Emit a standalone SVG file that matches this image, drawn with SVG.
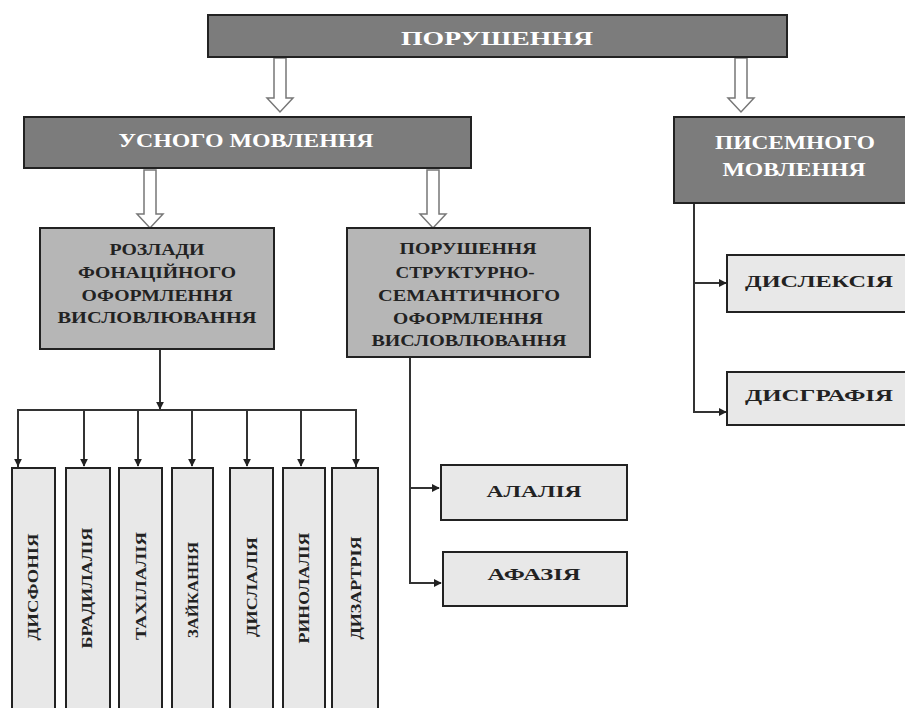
<svg xmlns="http://www.w3.org/2000/svg" width="905" height="708" viewBox="0 0 905 708">
<defs>
<style>
.dark{fill:#7c7c7c;stroke:#222;stroke-width:2}
.mid{fill:#b6b6b6;stroke:#222;stroke-width:2}
.light{fill:#e8e8e8;stroke:#222;stroke-width:2}
text{font-family:"Liberation Serif","Times New Roman",serif;font-weight:bold;text-anchor:middle;dominant-baseline:central}
.w{fill:#fff;font-size:19px}
.k{fill:#222;font-size:16px}
.v{fill:#222;font-size:15px}
.ln{fill:none;stroke:#333;stroke-width:2}
.hollow{fill:#fff;stroke:#777;stroke-width:1.5}
</style>
<marker id="ah" viewBox="0 0 10 10" refX="9" refY="5" markerWidth="4" markerHeight="4" orient="auto">
<path d="M0,0 L10,5 L0,10 z" fill="#222"/>
</marker>
</defs>
<rect width="905" height="708" fill="#fff"/>

<g id="connectors">
<path class="hollow" d="M274,58 h12 v40 h7 l-13,14 l-13,-14 h7 z"/>
<path class="hollow" d="M735,58 h12 v40 h7 l-13,14 l-13,-14 h7 z"/>
<path class="hollow" d="M144,170 h12 v44 h7 l-13,14 l-13,-14 h7 z"/>
<path class="hollow" d="M427,170 h12 v44 h7 l-13,14 l-13,-14 h7 z"/>
<path class="ln" d="M160,350 V409" marker-end="url(#ah)"/>
<path class="ln" d="M18,467 V410 H356 V467"/>
<path class="ln" d="M18,410 V466" marker-end="url(#ah)"/>
<path class="ln" d="M84,410 V466" marker-end="url(#ah)"/>
<path class="ln" d="M138,410 V466" marker-end="url(#ah)"/>
<path class="ln" d="M192,410 V466" marker-end="url(#ah)"/>
<path class="ln" d="M247,410 V466" marker-end="url(#ah)"/>
<path class="ln" d="M301,410 V466" marker-end="url(#ah)"/>
<path class="ln" d="M356,410 V466" marker-end="url(#ah)"/>
<path class="ln" d="M410,357 V583 H441" marker-end="url(#ah)"/>
<path class="ln" d="M410,488 H439" marker-end="url(#ah)"/>
<path class="ln" d="M694,203 V412 H726" marker-end="url(#ah)"/>
<path class="ln" d="M694,283 H726" marker-end="url(#ah)"/>
</g>

<g id="porushennia">
<rect class="dark" x="208" y="15" width="579" height="42"/>
<text class="w" x="497" y="38" font-size="21" textLength="192" lengthAdjust="spacingAndGlyphs">ПОРУШЕННЯ</text>
</g>

<g id="usnogo">
<rect class="dark" x="24" y="117" width="447" height="51"/>
<text class="w" x="246" y="140" textLength="255" lengthAdjust="spacingAndGlyphs">УСНОГО МОВЛЕННЯ</text>
</g>

<g id="pysemnogo">
<rect class="dark" x="674" y="117" width="240" height="86"/>
<text class="w" x="795" y="142" textLength="160" lengthAdjust="spacingAndGlyphs">ПИСЕМНОГО</text>
<text class="w" x="794" y="169" textLength="143" lengthAdjust="spacingAndGlyphs">МОВЛЕННЯ</text>
</g>

<g id="rozlady">
<rect class="mid" x="40" y="228" width="234" height="121"/>
<text class="k" x="157" y="249" textLength="95" lengthAdjust="spacingAndGlyphs">РОЗЛАДИ</text>
<text class="k" x="157" y="272" textLength="158" lengthAdjust="spacingAndGlyphs">ФОНАЦІЙНОГО</text>
<text class="k" x="157" y="295" textLength="151" lengthAdjust="spacingAndGlyphs">ОФОРМЛЕННЯ</text>
<text class="k" x="157" y="317" textLength="199" lengthAdjust="spacingAndGlyphs">ВИСЛОВЛЮВАННЯ</text>
</g>

<g id="strukturno">
<rect class="mid" x="347" y="228" width="243" height="129"/>
<text class="k" x="468" y="248" textLength="137" lengthAdjust="spacingAndGlyphs">ПОРУШЕННЯ</text>
<text class="k" x="465" y="272" textLength="139" lengthAdjust="spacingAndGlyphs">СТРУКТУРНО-</text>
<text class="k" x="469" y="295" textLength="182" lengthAdjust="spacingAndGlyphs">СЕМАНТИЧНОГО</text>
<text class="k" x="468" y="318" textLength="150" lengthAdjust="spacingAndGlyphs">ОФОРМЛЕННЯ</text>
<text class="k" x="469" y="340" textLength="195" lengthAdjust="spacingAndGlyphs">ВИСЛОВЛЮВАННЯ</text>
</g>

<g id="dysfoniia">
<rect class="light" x="12" y="468" width="43" height="245"/>
<text class="v" transform="translate(33,587) rotate(-90)" textLength="107" lengthAdjust="spacingAndGlyphs">ДИСФОНІЯ</text>
</g>
<g id="bradylaliia">
<rect class="light" x="66" y="468" width="44" height="245"/>
<text class="v" transform="translate(87,588) rotate(-90)" textLength="121" lengthAdjust="spacingAndGlyphs">БРАДИЛАЛІЯ</text>
</g>
<g id="takhilaliia">
<rect class="light" x="119" y="468" width="43" height="245"/>
<text class="v" transform="translate(141,586) rotate(-90)" textLength="108" lengthAdjust="spacingAndGlyphs">ТАХІЛАЛІЯ</text>
</g>
<g id="zaikannia">
<rect class="light" x="172" y="468" width="41" height="245"/>
<text class="v" transform="translate(193,590) rotate(-90)" textLength="96" lengthAdjust="spacingAndGlyphs">ЗАЙКАННЯ</text>
</g>
<g id="dyslaliia">
<rect class="light" x="230" y="468" width="43" height="245"/>
<text class="v" transform="translate(252,587) rotate(-90)" textLength="100" lengthAdjust="spacingAndGlyphs">ДИСЛАЛІЯ</text>
</g>
<g id="rynolaliia">
<rect class="light" x="283" y="468" width="42" height="245"/>
<text class="v" transform="translate(304,588) rotate(-90)" textLength="111" lengthAdjust="spacingAndGlyphs">РИНОЛАЛІЯ</text>
</g>
<g id="dyzartriia">
<rect class="light" x="332" y="468" width="46" height="245"/>
<text class="v" transform="translate(356,588) rotate(-90)" textLength="103" lengthAdjust="spacingAndGlyphs">ДИЗАРТРІЯ</text>
</g>

<g id="alaliia">
<rect class="light" x="441" y="465" width="186" height="55"/>
<text class="k" x="534" y="491" textLength="95" lengthAdjust="spacingAndGlyphs">АЛАЛІЯ</text>
</g>
<g id="afaziia">
<rect class="light" x="443" y="552" width="184" height="54"/>
<text class="k" x="534" y="574" textLength="93" lengthAdjust="spacingAndGlyphs">АФАЗІЯ</text>
</g>
<g id="dysleksiia">
<rect class="light" x="727" y="255" width="186" height="57"/>
<text class="k" x="819" y="281" textLength="148" lengthAdjust="spacingAndGlyphs">ДИСЛЕКСІЯ</text>
</g>
<g id="dysgrafiia">
<rect class="light" x="727" y="372" width="186" height="53"/>
<text class="k" x="819" y="395" textLength="148" lengthAdjust="spacingAndGlyphs">ДИСГРАФІЯ</text>
</g>
</svg>
